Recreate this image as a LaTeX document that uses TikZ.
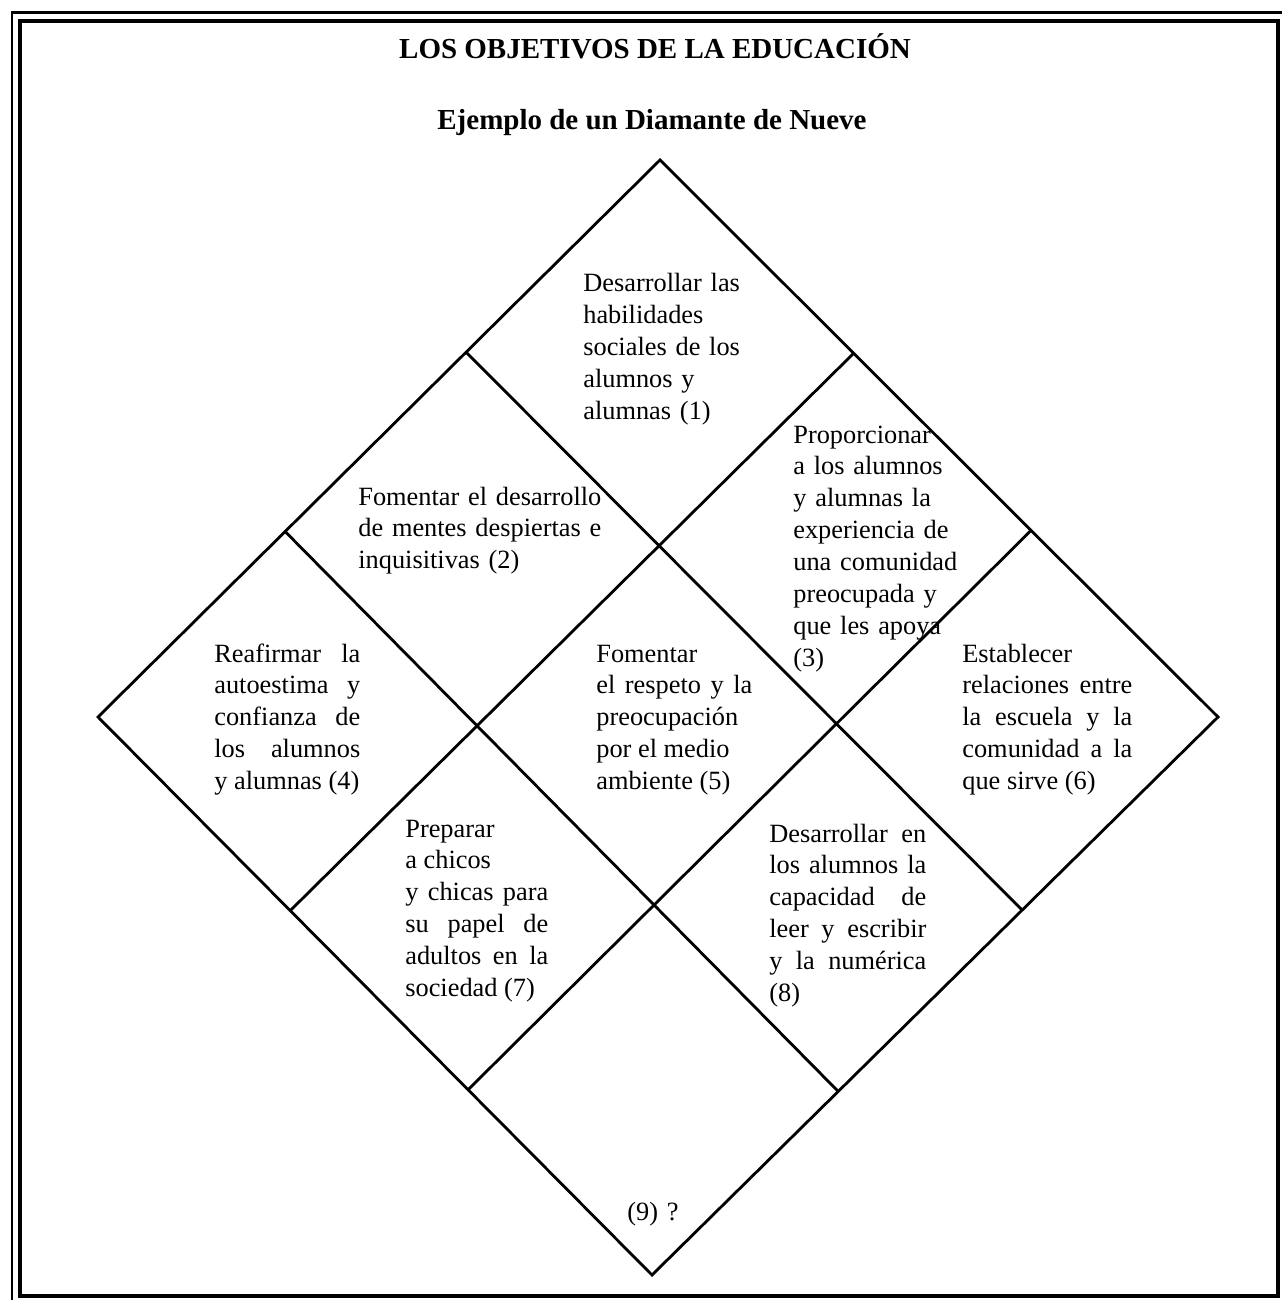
\documentclass[tikz,border=0pt]{standalone}
\usepackage{fontspec}
\setmainfont{Liberation Serif}
\usetikzlibrary{calc}
\tikzset{
  marcofuera/.style = {draw, line width=1.7pt},
  marcodentro/.style = {draw, line width=2.3pt},
  rejilla/.style = {draw, line width=1.6pt, line join=miter},
  titulo/.style = {anchor=base, inner sep=0pt,
                   font=\fontsize{16.5}{20}\selectfont\bfseries},
  objetivo/.style = {anchor=base west, inner sep=0pt, align=left, text width=#1,
                     font=\fontsize{15}{18.2}\selectfont,
                     execute at begin node={\hyphenpenalty=10000\tolerance=9999}},
  justo/.style = {objetivo=#1, align=justify}
}

\begin{document}
\begin{tikzpicture}[x=0.02cm, y=-0.02cm]
\useasboundingbox (0,0) rectangle (1281,1300);

% marco doble
\draw[marcofuera] (12,13) rectangle (1295,1310);
\draw[marcodentro] (20,21) rectangle (1278,1296);

\node[titulo] (titulo) at (655,59) {LOS OBJETIVOS DE LA EDUCACIÓN};
\node[titulo] (subtitulo) at (652,130) {Ejemplo de un Diamante de Nueve};

% vertices del diamante
\coordinate (arriba) at (660,160);
\coordinate (dcha) at (1218,717);
\coordinate (abajo) at (652,1275);
\coordinate (izda) at (98,717);
% puntos de la rejilla sobre los lados
\coordinate (ai1) at ($(arriba)!0.345!(izda)$);
\coordinate (ai2) at ($(arriba)!0.667!(izda)$);
\coordinate (ad1) at ($(arriba)!0.347!(dcha)$);
\coordinate (ad2) at ($(arriba)!0.665!(dcha)$);
\coordinate (bi1) at ($(izda)!0.347!(abajo)$);
\coordinate (bi2) at ($(izda)!0.668!(abajo)$);
\coordinate (bd1) at ($(dcha)!0.346!(abajo)$);
\coordinate (bd2) at ($(dcha)!0.671!(abajo)$);

\draw[rejilla] (arriba) -- (dcha) -- (abajo) -- (izda) -- cycle;
\draw[rejilla] (ai1) -- (bd1);
\draw[rejilla] (ai2) -- (bd2);
\draw[rejilla] (ad1) -- (bi1);
\draw[rejilla] (ad2) -- (bi2);

%fila de arriba
\node[objetivo=3.6cm] (obj1) at (583,292) {Desarrollar las\\habilidades\\sociales de los\\alumnos y\\alumnas (1)};
\node[objetivo=5.4cm] (obj2) at (358,505) {Fomentar el desarrollo\\de mentes despiertas e\\inquisitivas (2)};
\node[objetivo=3.4cm] (obj3) at (793,443) {Proporcionar\\a los alumnos\\y alumnas la\\experiencia de\\una comunidad\\preocupada y\\que les apoya\\(3)};
%fila del medio
\node[justo=2.92cm] (obj4) at (214,662) {Reafirmar la\linebreak autoestima y\linebreak confianza de\linebreak los alumnos\linebreak y alumnas (4)};
\node[justo=3.12cm] (obj5) at (596,662) {Fomentar\\el respeto y la\linebreak preocupación\\por el medio\\ambiente (5)};
\node[justo=3.40cm] (obj6) at (962,662) {Establecer\\relaciones entre\linebreak la escuela y la\linebreak comunidad a la\linebreak que sirve (6)};
%fila de abajo
\node[justo=2.86cm] (obj7) at (405,837) {Preparar\\a chicos\\y chicas para\linebreak su papel de\linebreak adultos en la\linebreak sociedad (7)};
\node[justo=3.14cm] (obj8) at (769,842) {Desarrollar en\linebreak los alumnos la\linebreak capacidad de\linebreak leer y escribir\linebreak y la numérica\linebreak (8)};
\node[objetivo=2cm] (obj9) at (627,1220) {(9) ?};
\end{tikzpicture}
\end{document}
